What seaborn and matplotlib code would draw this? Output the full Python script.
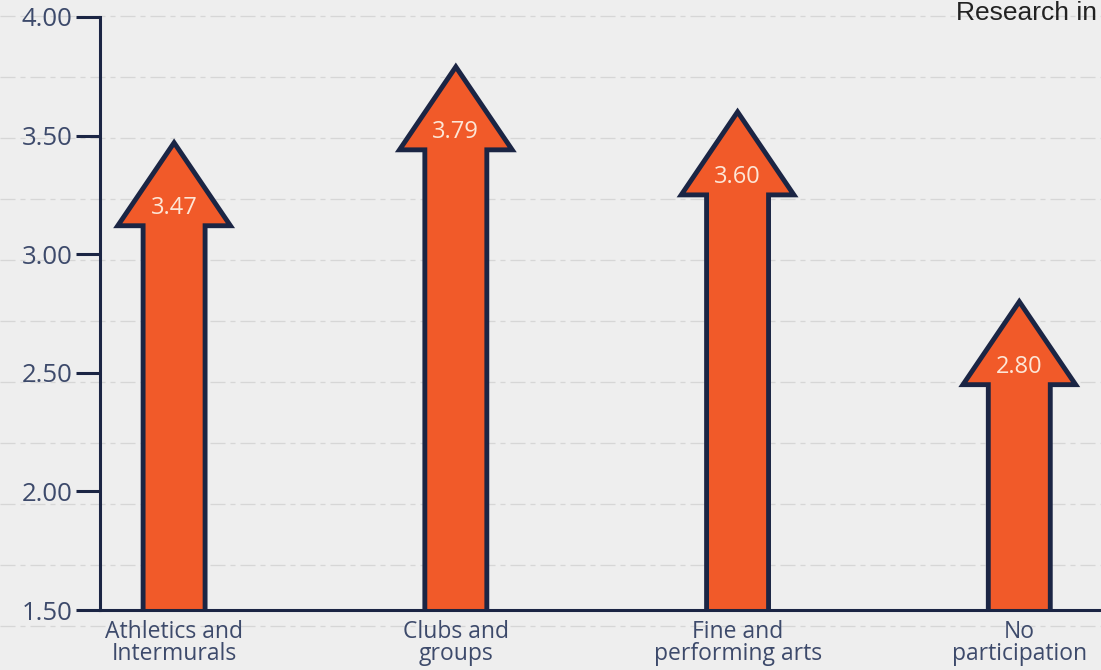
import matplotlib
matplotlib.use("Agg")
import matplotlib.pyplot as plt
import seaborn as sns
import pandas as pd
import numpy as np
from matplotlib.patches import Polygon
from matplotlib.lines import Line2D

# ---- data ----
categories = ["Athletics and\nIntermurals", "Clubs and\ngroups",
              "Fine and\nperforming arts", "No\nparticipation"]
values = [3.47, 3.79, 3.60, 2.80]
value_labels = ["3.47", "3.79", "3.60", "2.80"]
y_ticks = [1.50, 2.00, 2.50, 3.00, 3.50, 4.00]
y_tick_labels = ["1.50", "2.00", "2.50", "3.00", "3.50", "4.00"]
header_text = "Research in"

# ---- style ----
ORANGE = "#F15A29"
NAVY = "#1B2544"
TEXT = "#3D4A6B"
BG = "#EEEEEE"
Y0 = 1.5
SHAFT_W = 0.22
HEAD_W = 0.40
HEAD_H = 0.35

sns.set_theme(style="white")
plt.rcParams["font.family"] = ["Open Sans", "DejaVu Sans"]

fig = plt.figure(figsize=(11.01, 6.70), dpi=100, facecolor=BG)

# background ruled-paper lines
for ypx in np.arange(16, 670, 61):
    fig.add_artist(Line2D([0, 1], [1 - ypx / 670, 1 - ypx / 670],
                          transform=fig.transFigure, color="#D6D6D6",
                          lw=0.9, linestyle=(0, (12, 4, 4, 4)), zorder=0))

ax = fig.add_axes([100 / 1101, 60 / 670, 1 - 100 / 1101, (610 - 17) / 670])
ax.set_facecolor("none")

df = pd.DataFrame({"category": categories,
                   "shaft": [v - HEAD_H for v in values]})
sns.barplot(data=df, x="category", y="shaft", color=ORANGE, width=SHAFT_W,
            saturation=1, edgecolor="none", linewidth=0, ax=ax, zorder=2)

for i, v in enumerate(values):
    base = v - HEAD_H
    pts = [(i - SHAFT_W / 2, Y0), (i - SHAFT_W / 2, base),
           (i - HEAD_W / 2, base), (i, v), (i + HEAD_W / 2, base),
           (i + SHAFT_W / 2, base), (i + SHAFT_W / 2, Y0)]
    ax.add_patch(Polygon(pts, closed=False, facecolor=ORANGE, edgecolor=NAVY,
                         lw=3.5, joinstyle="miter", zorder=3))
    ax.text(i, base + 0.075, value_labels[i], ha="center", va="center",
            color="#FDE6D6", fontsize=17, zorder=4)

ax.set_ylim(1.5, 4.0)
ax.set_xlim(-0.263, 3.29)
ax.set_yticks(y_ticks)
ax.set_yticklabels(y_tick_labels)
ax.set_xlabel("")
ax.set_ylabel("")

for s in ["top", "right"]:
    ax.spines[s].set_visible(False)
for s in ["left", "bottom"]:
    ax.spines[s].set_color(NAVY)
    ax.spines[s].set_linewidth(2.2)
    ax.spines[s].set_zorder(5)

ax.tick_params(axis="y", direction="out", length=17, width=2.2, color=NAVY,
               labelsize=18.5, labelcolor=TEXT, pad=3, left=True)
ax.tick_params(axis="x", length=0, labelsize=16.5, labelcolor=TEXT, pad=7)
for lab in ax.get_xticklabels():
    lab.set_linespacing(0.9)

fig.text(1097 / 1101, 1 - 1 / 670, header_text, ha="right", va="top",
         fontsize=19, color="#222222", family=["Liberation Sans", "DejaVu Sans"])

fig.savefig("out.png", dpi=100, facecolor=BG)
